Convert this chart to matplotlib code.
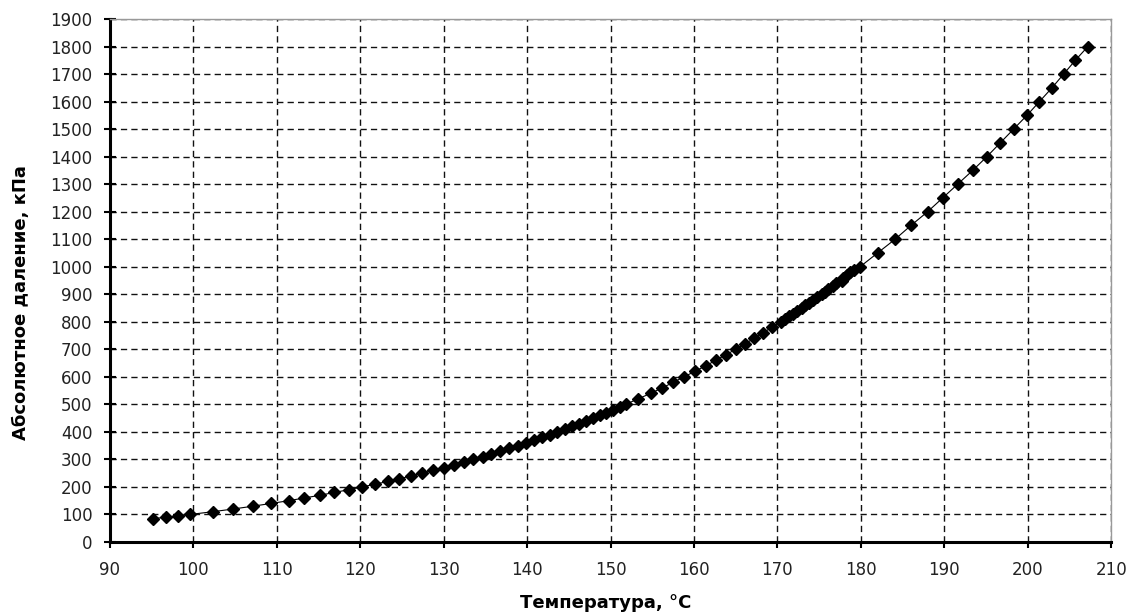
import matplotlib
matplotlib.use("Agg")
import matplotlib.pyplot as plt

# saturated steam: temperature (degC) vs absolute pressure (kPa)
pressure_kpa = [
    85, 90, 95, 100, 110, 120, 130, 140, 150, 160, 170, 180, 190, 200,
    210, 220, 230, 240, 250, 260, 270, 280, 290, 300,
    310, 320, 330, 340, 350, 360, 370, 380, 390, 400,
    410, 420, 430, 440, 450, 460, 470, 480, 490, 500,
    520, 540, 560, 580, 600,
    620, 640, 660, 680, 700,
    720, 740, 760, 780, 800,
    810, 820, 830, 840, 850, 860, 870, 880, 890, 900,
    910, 920, 930, 940, 950, 960, 970, 980, 990, 1000,
    1050, 1100, 1150, 1200, 1250, 1300, 1350, 1400, 1450, 1500,
    1550, 1600, 1650, 1700, 1750, 1800,
]
temperature_c = [
    95.2, 96.7, 98.2, 99.6, 102.3, 104.8, 107.1, 109.3, 111.4, 113.3, 115.2, 116.9, 118.6, 120.2,
    121.8, 123.3, 124.7, 126.1, 127.4, 128.7, 130.0, 131.2, 132.4, 133.5,
    134.7, 135.7, 136.8, 137.8, 138.9, 139.9, 140.8, 141.8, 142.7, 143.6,
    144.5, 145.4, 146.2, 147.1, 147.9, 148.7, 149.5, 150.3, 151.1, 151.8,
    153.3, 154.8, 156.2, 157.5, 158.8,
    160.1, 161.4, 162.6, 163.8, 165.0,
    166.1, 167.2, 168.3, 169.3, 170.4,
    170.9, 171.4, 171.9, 172.3, 172.9, 173.3, 173.8, 174.3, 174.7, 175.4,
    175.7, 176.1, 176.6, 177.0, 177.7, 177.9, 178.3, 178.7, 179.2, 179.9,
    182.0, 184.1, 186.0, 188.0, 189.8, 191.6, 193.4, 195.1, 196.7, 198.3,
    199.9, 201.4, 202.9, 204.3, 205.7, 207.2,
]

plt.rcParams["font.family"] = ["DejaVu Sans"]

fig = plt.figure(figsize=(11.35, 6.15), dpi=100)
ax = fig.add_axes([0.0969, 0.1187, 0.8821, 0.8503])

ax.plot(temperature_c, pressure_kpa, "-", color="black", lw=0.8,
        marker="D", ms=6.5, mfc="black", mec="black", zorder=3)

ax.set_xlim(90, 210)
ax.set_ylim(0, 1900)
ax.set_xticks(range(90, 211, 10))
ax.set_yticks(range(0, 1901, 100))

ax.grid(True, color="#111111", ls=(0, (4.5, 3)), lw=1.0)
ax.set_axisbelow(True)

for s in ("left", "bottom"):
    ax.spines[s].set_color("black")
    ax.spines[s].set_linewidth(2.2)
for s in ("top", "right"):
    ax.spines[s].set_color("#999999")
    ax.spines[s].set_linewidth(1.0)

ax.tick_params(axis="y", direction="inout", length=9, width=1.5,
               labelsize=12, labelcolor="#222222", pad=8)
ax.tick_params(axis="x", direction="out", length=4, width=1.5,
               labelsize=12, labelcolor="#222222", pad=10)

ax.set_xlabel("Температура, °С", fontsize=13, fontweight="bold")
ax.set_ylabel("Абсолютное даление, кПа", fontsize=13, fontweight="bold")
ax.xaxis.set_label_coords(0.495, -0.100)
ax.yaxis.set_label_coords(-0.080, 0.457)

fig.savefig("out.png", dpi=100, facecolor="white")
